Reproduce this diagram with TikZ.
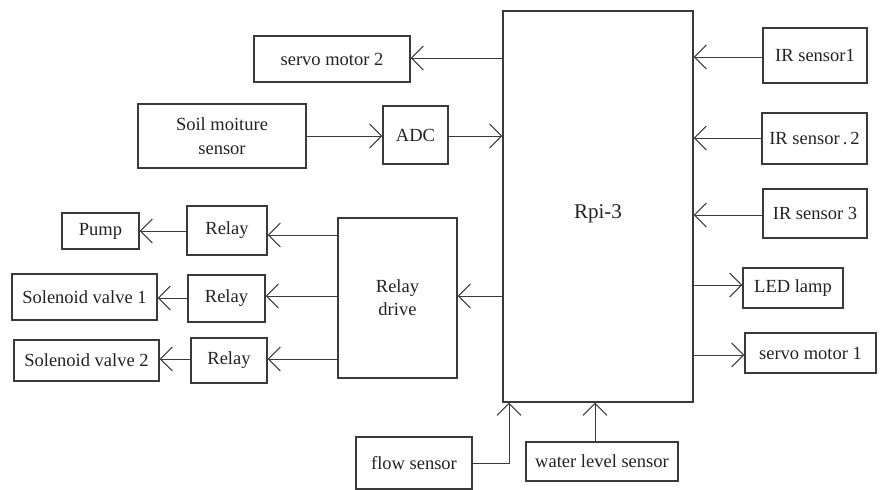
\documentclass[tikz,border=0pt]{standalone}
\usepackage{fontspec}
\setmainfont{Liberation Serif}
\usetikzlibrary{arrows.meta}
\definecolor{ln}{HTML}{3A3A3A}
\definecolor{tx}{HTML}{222222}
\begin{document}
\begin{tikzpicture}[x=1pt,y=-1pt,
  box/.style={draw=ln, line width=1.2pt, inner sep=0pt, text=tx, align=center,
    font=\fontsize{18.5}{24}\selectfont},
  arr/.style={draw=ln, line width=1pt, -{Straight Barb[length=12pt,width=24pt,line width=1pt]}},
  ln/.style={draw=ln, line width=1pt}]
\useasboundingbox (0,0) rectangle (889,490);
% main
\node[box, minimum width=190, minimum height=391] (rpi) at (598,206.5) {\fontsize{21}{24}\selectfont\raisebox{-11.5pt}[0pt][0pt]{Rpi-3}};
% left top
\node[box, minimum width=156, minimum height=46] (sm2) at (332,59) {servo motor 2};
\node[box, minimum width=168, minimum height=64] (soil) at (222,136) {Soil moiture\\sensor};
\node[box, minimum width=65, minimum height=58] (adc) at (415.5,135) {ADC};
% relays
\node[box, minimum width=77, minimum height=36] (pump) at (100.5,231) {Pump};
\node[box, minimum width=80, minimum height=49] (r1) at (227,230.5) {Relay};
\node[box, minimum width=145, minimum height=46] (sv1) at (84.5,297) {Solenoid valve 1};
\node[box, minimum width=77, minimum height=47] (r2) at (226.5,298.5) {Relay};
\node[box, minimum width=145, minimum height=41] (sv2) at (86.5,360.5) {Solenoid valve 2};
\node[box, minimum width=76, minimum height=45] (r3) at (229,360.5) {Relay};
\node[box, minimum width=119, minimum height=160, font=\fontsize{18.5}{23}\selectfont] (rd) at (397.5,298) {Relay\\drive};
% bottom
\node[box, minimum width=116, minimum height=52] (flow) at (414,463) {flow sensor};
\node[box, minimum width=152, minimum height=39] (wl) at (602,461.5) {water level sensor};
% right
\node[box, minimum width=104, minimum height=55] (ir1) at (815,55.5) {IR sensor1};
\node[box, minimum width=105, minimum height=51] (ir2) at (814.5,138.5) {IR sensor\,.\,2};
\node[box, minimum width=104, minimum height=49] (ir3) at (815,213.5) {IR sensor 3};
\node[box, minimum width=100, minimum height=40] (led) at (793,288) {LED lamp};
\node[box, minimum width=131, minimum height=40] (sm1) at (810.5,353) {servo motor 1};
% connectors
\draw[arr] (rpi.west |- 0,58) -- (sm2.east |- 0,58);
\draw[arr] (soil.east |- 0,136) -- (adc.west |- 0,136);
\draw[arr] (adc.east |- 0,136) -- (rpi.west |- 0,136);
\draw[arr] (ir1.west |- 0,57) -- (rpi.east |- 0,57);
\draw[arr] (ir2.west |- 0,138) -- (rpi.east |- 0,138);
\draw[arr] (ir3.west |- 0,215) -- (rpi.east |- 0,215);
\draw[arr] (rpi.east |- 0,285) -- (led.west |- 0,285);
\draw[arr] (rpi.east |- 0,355) -- (sm1.west |- 0,355);
\draw[arr] (rpi.west |- 0,296) -- (rd.east |- 0,296);
\draw[arr] (rd.west |- 0,235) -- (r1.east |- 0,235);
\draw[arr] (rd.west |- 0,296) -- (r2.east |- 0,296);
\draw[arr] (rd.west |- 0,359) -- (r3.east |- 0,359);
\draw[arr] (r1.west |- 0,231) -- (pump.east |- 0,231);
\draw[arr] (r2.west |- 0,298) -- (sv1.east |- 0,298);
\draw[arr] (r3.west |- 0,359) -- (sv2.east |- 0,359);
\draw[arr] (flow.east) -- (509,463) -- (rpi.south -| 509,0);
\draw[arr] (wl.north -| 595,0) -- (rpi.south -| 595,0);
\end{tikzpicture}
\end{document}
